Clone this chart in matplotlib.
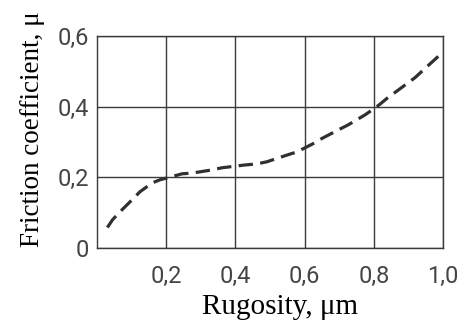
import matplotlib
matplotlib.use("Agg")
import matplotlib.pyplot as plt

# curve
rugosity = [0.030, 0.045, 0.066, 0.104, 0.124, 0.159, 0.182, 0.246, 0.275, 0.332,
            0.361, 0.428, 0.462, 0.491, 0.549, 0.578, 0.624, 0.650, 0.697, 0.725,
            0.775, 0.809, 0.840, 0.861, 0.919, 0.939, 0.997]
friction = [0.058, 0.080, 0.102, 0.139, 0.159, 0.184, 0.193, 0.210, 0.212, 0.221,
            0.227, 0.235, 0.238, 0.244, 0.263, 0.272, 0.295, 0.310, 0.334, 0.348,
            0.377, 0.400, 0.425, 0.440, 0.482, 0.500, 0.552]

x_ticks = [0.2, 0.4, 0.6, 0.8, 1.0]
x_labels = ["0,2", "0,4", "0,6", "0,8", "1,0"]
y_ticks = [0, 0.2, 0.4, 0.6]
y_labels = ["0", "0,2", "0,4", "0,6"]

fig = plt.figure(figsize=(4.65, 3.23), dpi=100)
ax = fig.add_axes([97 / 465, 75 / 323, 346 / 465, 212 / 323])

ax.plot(rugosity, friction, color="#303030", linewidth=2.3, dashes=(4.5, 2.3))

ax.set_xlim(0, 1.0)
ax.set_ylim(0, 0.6)
ax.set_xticks(x_ticks)
ax.set_xticklabels(x_labels)
ax.set_yticks(y_ticks)
ax.set_yticklabels(y_labels)
ax.grid(True, color="#3a3a3a", linewidth=1.0)
ax.set_axisbelow(True)
ax.tick_params(length=0, labelsize=17, labelcolor="#454545")
ax.tick_params(axis="x", pad=12)
ax.tick_params(axis="y", pad=6)
for lbl in ax.get_xticklabels() + ax.get_yticklabels():
    lbl.set_fontfamily("Roboto")
for s in ax.spines.values():
    s.set_color("#3a3a3a")
    s.set_linewidth(1.0)

ax.set_xlabel("Rugosity, \u03bcm", fontfamily="Liberation Serif", fontsize=21)
ax.set_ylabel("Friction coefficient, \u03bc", fontfamily="Liberation Serif", fontsize=19.5)
ax.xaxis.set_label_coords(0.529, -0.215)
ax.yaxis.set_label_coords(-0.15, 0.561)

fig.savefig("out.png", dpi=100)
